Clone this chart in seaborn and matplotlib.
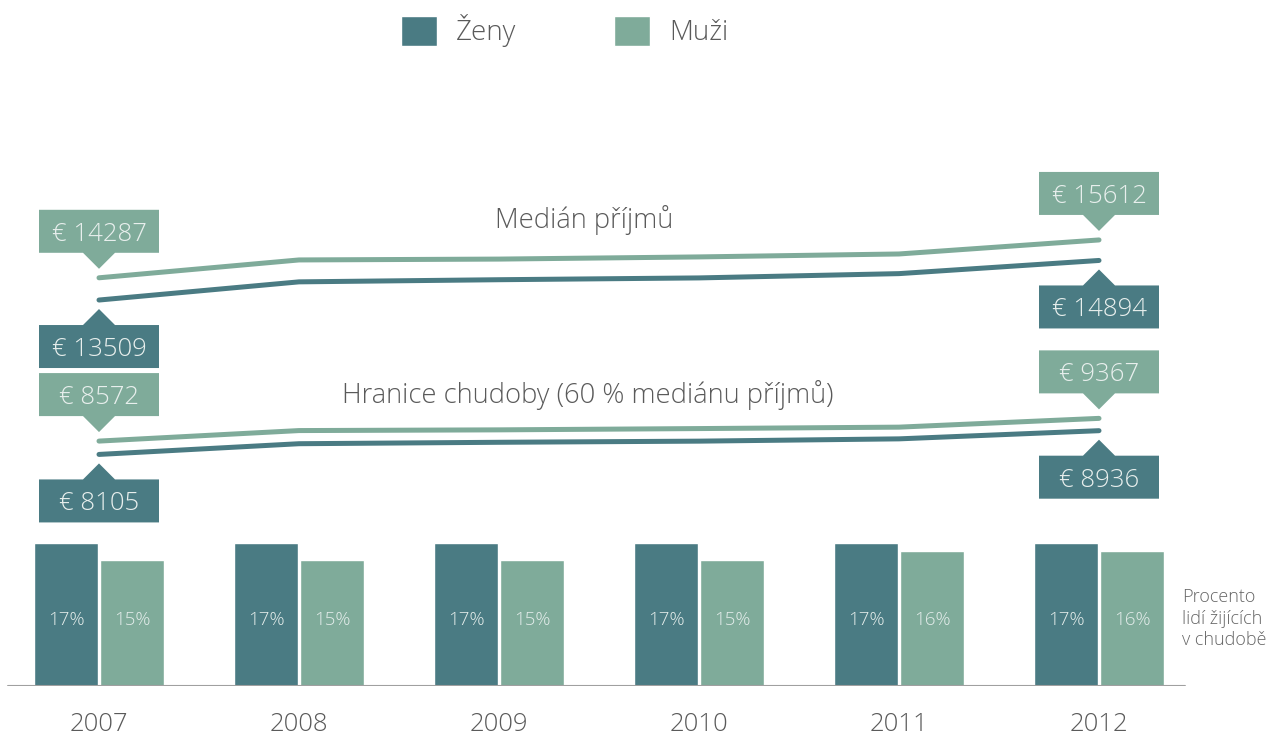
import numpy as np
import pandas as pd
import seaborn as sns
import matplotlib.pyplot as plt
from matplotlib import transforms
from matplotlib.patches import Patch, Polygon

# data
years = ['2007', '2008', '2009', '2010', '2011', '2012']
zeny_pct = [17, 17, 17, 17, 17, 17]
muzi_pct = [15, 15, 15, 15, 16, 16]
zeny_median = [13509, 14145, 14220, 14283, 14433, 14894]
muzi_median = [14287, 14912, 14942, 15018, 15121, 15612]
zeny_hranice = [8105, 8480, 8530, 8570, 8650, 8936]
muzi_hranice = [8572, 8940, 8965, 9010, 9060, 9367]

C_Z = '#4a7b83'
C_M = '#7fab9a'
TXT = '#5a5a5a'

sns.set_theme(style='white')
plt.rcParams['font.family'] = ['Open Sans', 'DejaVu Sans']
plt.rcParams['font.weight'] = 'light'

fig = plt.figure(figsize=(12.69, 7.35), dpi=100)
ax = fig.add_axes([0, 49 / 735, 1, 686 / 735])
ax.patch.set_alpha(0)

# bars: percentage of people living in poverty
df_bars = pd.DataFrame({
    'rok': years * 2,
    'pohlavi': ['Ženy'] * 6 + ['Muži'] * 6,
    'procento': zeny_pct + muzi_pct,
})
sns.barplot(data=df_bars, x='rok', y='procento', hue='pohlavi',
            hue_order=['Ženy', 'Muži'], palette={'Ženy': C_Z, 'Muži': C_M},
            width=0.66, gap=0.03, saturation=1, errorbar=None, legend=False, ax=ax)
for cont, vals in zip(ax.containers, [zeny_pct, muzi_pct]):
    for bar, v in zip(cont, vals):
        ax.text(bar.get_x() + bar.get_width() / 2, 7.8, f'{v}%', ha='center', va='center',
                color='#e3ecea', fontsize=13.5)

ax.set_xlim(-0.495, 5.85)
ax.set_ylim(0, 686 / 8.41)
ax.axhline(0, xmin=0.006, xmax=0.934, color='#a0a0a0', lw=1.5)
ax.set_xlabel('')
ax.set_ylabel('')
ax.set_yticks([])
ax.tick_params(axis='x', length=0, pad=19, labelsize=18.5, labelcolor=TXT)
for s in ax.spines.values():
    s.set_visible(False)
ax.text(5.415, 8, 'Procento\nlidí žijících\nv chudobě', ha='left', va='center',
        color='#666666', fontsize=13, linespacing=1.25)

# lines: median income and poverty threshold
ax2 = ax.twinx()
df_lines = pd.DataFrame({
    'pos': list(range(6)) * 4,
    'eur': zeny_median + muzi_median + zeny_hranice + muzi_hranice,
    'pohlavi': ['Ženy'] * 6 + ['Muži'] * 6 + ['Ženy'] * 6 + ['Muži'] * 6,
    'druh': ['median'] * 12 + ['hranice'] * 12,
})
sns.lineplot(data=df_lines, x='pos', y='eur', hue='pohlavi', units='druh', estimator=None,
             palette={'Ženy': C_Z, 'Muži': C_M}, linewidth=3.6, legend=False,
             solid_capstyle='round', ax=ax2)
ax2.set_ylim(0, 686 * 35)
ax2.set_yticks([])
ax2.set_xlabel('')
ax2.set_ylabel('')
for s in ax2.spines.values():
    s.set_visible(False)


def callout(x, v, color, above):
    sgn = 1 if above else -1
    gap, tri, h, w = 9, 16, 43, 120
    pts = [(0, gap), (16, gap + tri), (w / 2, gap + tri), (w / 2, gap + tri + h),
           (-w / 2, gap + tri + h), (-w / 2, gap + tri), (-16, gap + tri)]
    pts = np.array([(px, sgn * py) for px, py in pts]) / fig.dpi
    trans = fig.dpi_scale_trans + transforms.ScaledTranslation(x, v, ax2.transData)
    ax2.add_patch(Polygon(pts, closed=True, transform=trans, fc=color, ec='none', clip_on=False))
    ax2.text(0, sgn * (gap + tri + h / 2) / fig.dpi, f'€ {v}', transform=trans,
             ha='center', va='center_baseline', color='#e8efed', fontsize=18.5)


for series, color, above in [(muzi_median, C_M, True), (zeny_median, C_Z, False),
                             (muzi_hranice, C_M, True), (zeny_hranice, C_Z, False)]:
    callout(0, series[0], color, above)
    callout(5, series[-1], color, above)

ax2.text(2.425, 16310, 'Medián příjmů', ha='center', va='center', color=TXT, fontsize=19.7)
ax2.text(2.445, 10185, 'Hranice chudoby (60 % mediánu příjmů)', ha='center', va='center',
         color=TXT, fontsize=19.7)

handles = [Patch(facecolor=C_Z, label='Ženy'), Patch(facecolor=C_M, label='Muži')]
fig.legend(handles=handles, loc='center', bbox_to_anchor=(0.445, 0.958), ncol=2,
           frameon=False, fontsize=20, handlelength=1.3, handleheight=1.3,
           handletextpad=0.7, columnspacing=3.5, labelcolor=TXT)

fig.savefig('out.png', dpi=100)
